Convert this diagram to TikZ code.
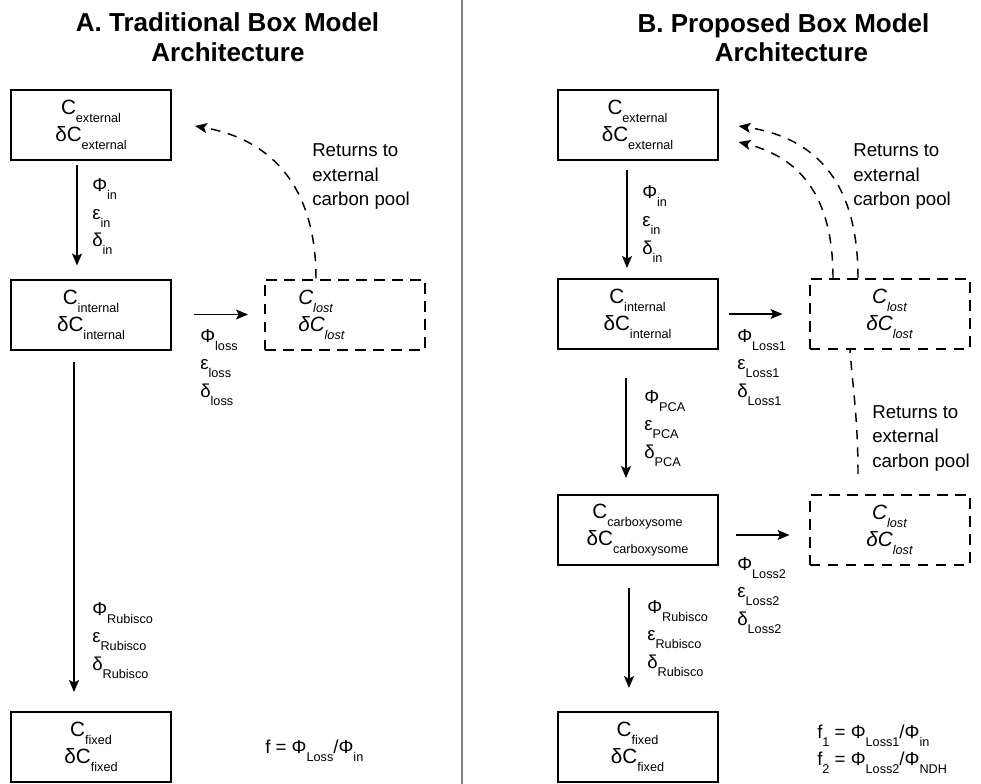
\documentclass[tikz,border=0pt]{standalone}
\usepackage{fontspec}
\setmainfont{Liberation Sans}
\usetikzlibrary{arrows.meta,calc}
\newcommand\sbx[1]{\raisebox{-6pt}{\fontsize{9.5}{11}\selectfont #1}}
\newcommand\sbl[1]{\raisebox{-6pt}{\fontsize{9.5}{11}\selectfont #1}}
\newcommand\cfs{\fontsize{15.5}{20.25}\selectfont}
\tikzset{
  box/.style={draw, line width=1.5pt, minimum width=120pt, minimum height=52.5pt, inner sep=0pt, align=center, font=\cfs},
  dbox/.style={draw, dash pattern=on 8pt off 5.5pt, line width=1.5pt, minimum width=120pt, minimum height=52.5pt, inner sep=0pt, align=center, font=\cfs\itshape},
  arr/.style={-{Stealth[length=9pt,width=7.5pt,inset=2pt]}, line width=1pt},
  darr/.style={-{Stealth[length=9pt,width=7.5pt,inset=2pt]}, line width=1.1pt, dash pattern=on 7pt off 6pt},
  lab/.style={anchor=base west, inner sep=0pt, font=\fontsize{14}{16}\selectfont},
  ttl/.style={anchor=base, inner sep=0pt, font=\fontsize{19.5}{22.5}\selectfont\bfseries},
}
\begin{document}
\begin{tikzpicture}[x=0.75pt,y=-0.75pt]
\useasboundingbox (0,0) rectangle (981,784);
\fill[white] (0,0) rectangle (981,784);
\draw[color=black!50, line width=1.2pt] (462,0) -- (462,784);

% titles
\node[ttl] (tA1) at (227.5,32) {A. Traditional Box Model};
\node[ttl] (tA2) at (228,62) {Architecture};
\node[ttl] (tB1) at (783.5,33) {B. Proposed Box Model};
\node[ttl] (tB2) at (791.5,62) {Architecture};

% panel A boxes
\node[box] (extA) at (91,125) {C\sbx{external}\\δC\sbx{external}};
\node[box] (intA) at (91,314.5) {C\sbx{internal}\\δC\sbx{internal}};
\node[box] (fixA) at (91,747) {C\sbx{fixed}\\δC\sbx{fixed}};
\node[dbox] (lostA) at (345,314.5) {};
\node[anchor=west, inner sep=0pt, align=left, font=\cfs\itshape] (lostAt) at (298,314.5) {C\sbx{lost}\\δC\sbx{lost}};

% panel B boxes
\node[box] (extB) at (637.5,125) {C\sbx{external}\\δC\sbx{external}};
\node[box] (intB) at (637.5,314) {C\sbx{internal}\\δC\sbx{internal}};
\node[box] (carB) at (637.5,530) {C\sbx{carboxysome}\\δC\sbx{carboxysome}};
\node[box] (fixB) at (637.5,747) {C\sbx{fixed}\\δC\sbx{fixed}};
\node[dbox] (lost1) at (889.5,314) {C\sbx{lost}\\δC\sbx{lost}};
\node[dbox] (lost2) at (889.5,530) {C\sbx{lost}\\δC\sbx{lost}};

% flux labels
\foreach \nm/\x/\y/\s in {inA/92/192/in, lossA/200/342/loss, rubA/92/615/Rubisco, inB/642/199/in, lsa/737/342/Loss1, pcaB/644/403/PCA, lsb/737/570/Loss2, rubB/647/613/Rubisco}{
  \node[lab] (\nm-p) at (\x,\y) {Φ\sbl{\s}};
  \node[lab] (\nm-e) at (\x,\y+27.5) {ε\sbl{\s}};
  \node[lab] (\nm-d) at (\x,\y+55) {δ\sbl{\s}};
}

% returns text
\foreach \nm/\x/\y in {rA/312/157, rB/853/157, rC/872/418}{
  \node[lab] (\nm-1) at (\x,\y) {Returns to};
  \node[lab] (\nm-2) at (\x,\y+24.5) {external};
  \node[lab] (\nm-3) at (\x,\y+49) {carbon pool};
}

% formulas
\node[lab] (fA) at (265,753) {f = Φ\sbl{Loss}/Φ\sbl{in}};
\node[lab] (fB1) at (817,738) {f\sbl{1} = Φ\sbl{Loss1}/Φ\sbl{in}};
\node[lab] (fB2) at (817,765) {f\sbl{2} = Φ\sbl{Loss2}/Φ\sbl{NDH}};

% panel A connectors
\draw[arr] ($(extA.south)+(-14,4)$) -- ($(intA.north)+(-14,-13)$);
\draw[arr] ($(intA.south)+(-17,11)$) -- ($(fixA.north)+(-17,-19)$);
\draw[arr] ($(intA.east)+(22,0)$) -- ($(lostA.west)+(-16,0)$);
\draw[darr] ($(lostA.north)+(-29,0)$) .. controls ($(lostA.north)+(-29,-88)$) and ($(extA.east)+(103,15)$) .. ($(extA.east)+(23,1)$);

% panel B connectors
\draw[arr] ($(extB.south)+(-10.5,9)$) -- ($(intB.north)+(-10.5,-10)$);
\draw[arr] ($(intB.south)+(-11.5,28)$) -- ($(carB.north)+(-11.5,-16)$);
\draw[arr] ($(carB.south)+(-8.5,22)$) -- ($(fixB.north)+(-8.5,-23)$);
\draw[arr] ($(intB.east)+(10,0)$) -- ($(lost1.west)+(-26,0)$);
\draw[arr] ($(carB.east)+(17,5)$) -- ($(lost2.west)+(-19,5)$);
\draw[darr] ($(lost1.north)+(-31.5,0)$) .. controls ($(lost1.north)+(-31.5,-78)$) and ($(extB.east)+(112,15)$) .. ($(extB.east)+(20,1)$);
\draw[darr] ($(lost1.north)+(-56.5,0)$) .. controls ($(lost1.north)+(-56.5,-68)$) and ($(extB.east)+(92,35)$) .. ($(extB.east)+(20,17)$);
\draw[line width=1.1pt, dash pattern=on 7pt off 6pt] ($(lost2.north)+(-31.5,-20)$) .. controls ($(lost2.north)+(-31.5,-74)$) and ($(lost1.south)+(-36.5,40)$) .. ($(lost1.south)+(-39.5,0)$);
\end{tikzpicture}
\end{document}
